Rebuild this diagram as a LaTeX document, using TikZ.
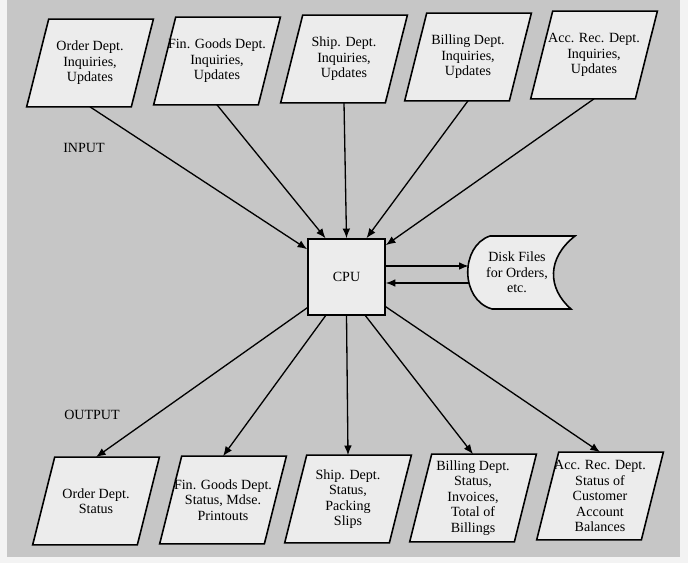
\documentclass[tikz,border=0pt]{standalone}
\usepackage{fontspec}
\setmainfont{Liberation Serif}
\usepackage{tikz}
\usetikzlibrary{arrows.meta,backgrounds,calc}
\definecolor{dpbg}{RGB}{198,198,198}
\definecolor{dpfill}{RGB}{236,236,236}
\definecolor{dpmargin}{RGB}{243,243,243}
\tikzset{
  dpio/.style={
    rectangle, minimum width=2.08cm, minimum height=1.74cm, inner sep=0pt,
    align=center, font=\fontsize{8}{8.8}\selectfont
  },
  dpslant/.style={draw=black, fill=dpfill, line width=0.9pt},
  dpcpu/.style={
    rectangle, draw=black, fill=dpfill, line width=0.9pt,
    minimum width=1.54cm, minimum height=1.52cm, inner sep=0pt,
    font=\fontsize{8}{8.8}\selectfont
  },
  dpdisk/.style={
    rectangle, inner sep=0pt, minimum width=1.92cm, minimum height=1.46cm,
    align=center, font=\fontsize{8}{8.8}\selectfont
  },
  dpstore/.style={draw=black, fill=dpfill, line width=0.9pt},
  dpedge/.style={-{Latex[length=5.5pt,width=4.4pt]},line width=0.75pt},
  dplabel/.style={font=\fontsize{8}{8.8}\selectfont}
}
\begin{document}
\begin{tikzpicture}[x=0.02cm,y=-0.02cm]
  \useasboundingbox (0,0) rectangle (688,563);

  % input row
  \node[dpio] (inorder) at (90,63) {Order Dept.\\Inquiries,\\Updates};
  \node[dpio] (infin) at (217,61) {Fin. Goods Dept.\\Inquiries,\\Updates};
  \node[dpio] (inship) at (344,59) {Ship. Dept.\\Inquiries,\\Updates};
  \node[dpio] (inbill) at (468,57) {Billing Dept.\\Inquiries,\\Updates};
  \node[dpio] (inacc) at (594,55) {Acc. Rec. Dept.\\Inquiries,\\Updates};
  \node[dplabel] (lblin) at (84,148) {INPUT};

  % processor and disk files
  \node[dpcpu] (cpu) at (346.5,277) {CPU};
  \draw[dpstore] (490,236) -- (575,236)
    .. controls (547,258) and (547,288) .. (571,309) -- (492,309)
    .. controls (460,300) and (460,246) .. (490,236) -- cycle;
  \node[dpdisk] (disk) at (517,272.5) {Disk Files\\for Orders,\\etc.};

  % output row
  \node[dplabel] (lblout) at (92,415) {OUTPUT};
  \node[dpio] (outorder) at (96,501) {Order Dept.\\Status};
  \node[dpio] (outfin) at (223,500) {Fin. Goods Dept.\\Status, Mdse.\\Printouts};
  \node[dpio] (outship) at (348,499) {Ship. Dept.\\Status,\\Packing\\Slips};
  \node[dpio] (outbill) at (473,498) {Billing Dept.\\Status,\\Invoices,\\Total of\\Billings};
  \node[dpio] (outacc) at (600,496) {Acc. Rec. Dept.\\Status of\\Customer\\Account\\Balances};

  % slanted input/output boxes behind the texts
  \begin{scope}[on background layer]
    \fill[dpmargin] (0,0) rectangle (688,563);
    \fill[dpbg] (7,0) rectangle (680,557);
    \foreach \b in {inorder,infin,inship,inbill,inacc,outorder,outfin,outship,outbill,outacc}
      \draw[dpslant] ($(\b.south west)+(-11,0)$) -- ($(\b.south east)+(-11,0)$)
        -- ($(\b.north east)+(11,0)$) -- ($(\b.north west)+(11,0)$) -- cycle;
  \end{scope}

  % inputs into the CPU
  \draw[dpedge] (inorder.south) -- ($(cpu.north west)+(0,11)$);
  \draw[dpedge] (infin.south) -- ($(cpu.north)+(-21,0)$);
  \draw[dpedge] (inship.south) -- (cpu.north);
  \draw[dpedge] (inbill.south) -- ($(cpu.north)+(20,0)$);
  \draw[dpedge] (inacc.south) -- ($(cpu.north east)+(0,7)$);

  % CPU and disk
  \coordinate (cpuup) at ($(cpu.east)+(0,-11)$);
  \coordinate (cpudn) at ($(cpu.east)+(0,6)$);
  \draw[dpedge] (cpuup) -- (cpuup -| disk.west);
  \draw[dpedge] (cpudn -| disk.west) -- (cpudn);

  % CPU out to the departments
  \draw[dpedge] ($(cpu.south west)+(0,-8)$) -- (outorder.north);
  \draw[dpedge] ($(cpu.south)+(-21,0)$) -- (outfin.north);
  \draw[dpedge] (cpu.south) -- (outship.north);
  \draw[dpedge] ($(cpu.south)+(19,0)$) -- (outbill.north);
  \draw[dpedge] ($(cpu.south east)+(0,-9)$) -- (outacc.north);
\end{tikzpicture}
\end{document}
